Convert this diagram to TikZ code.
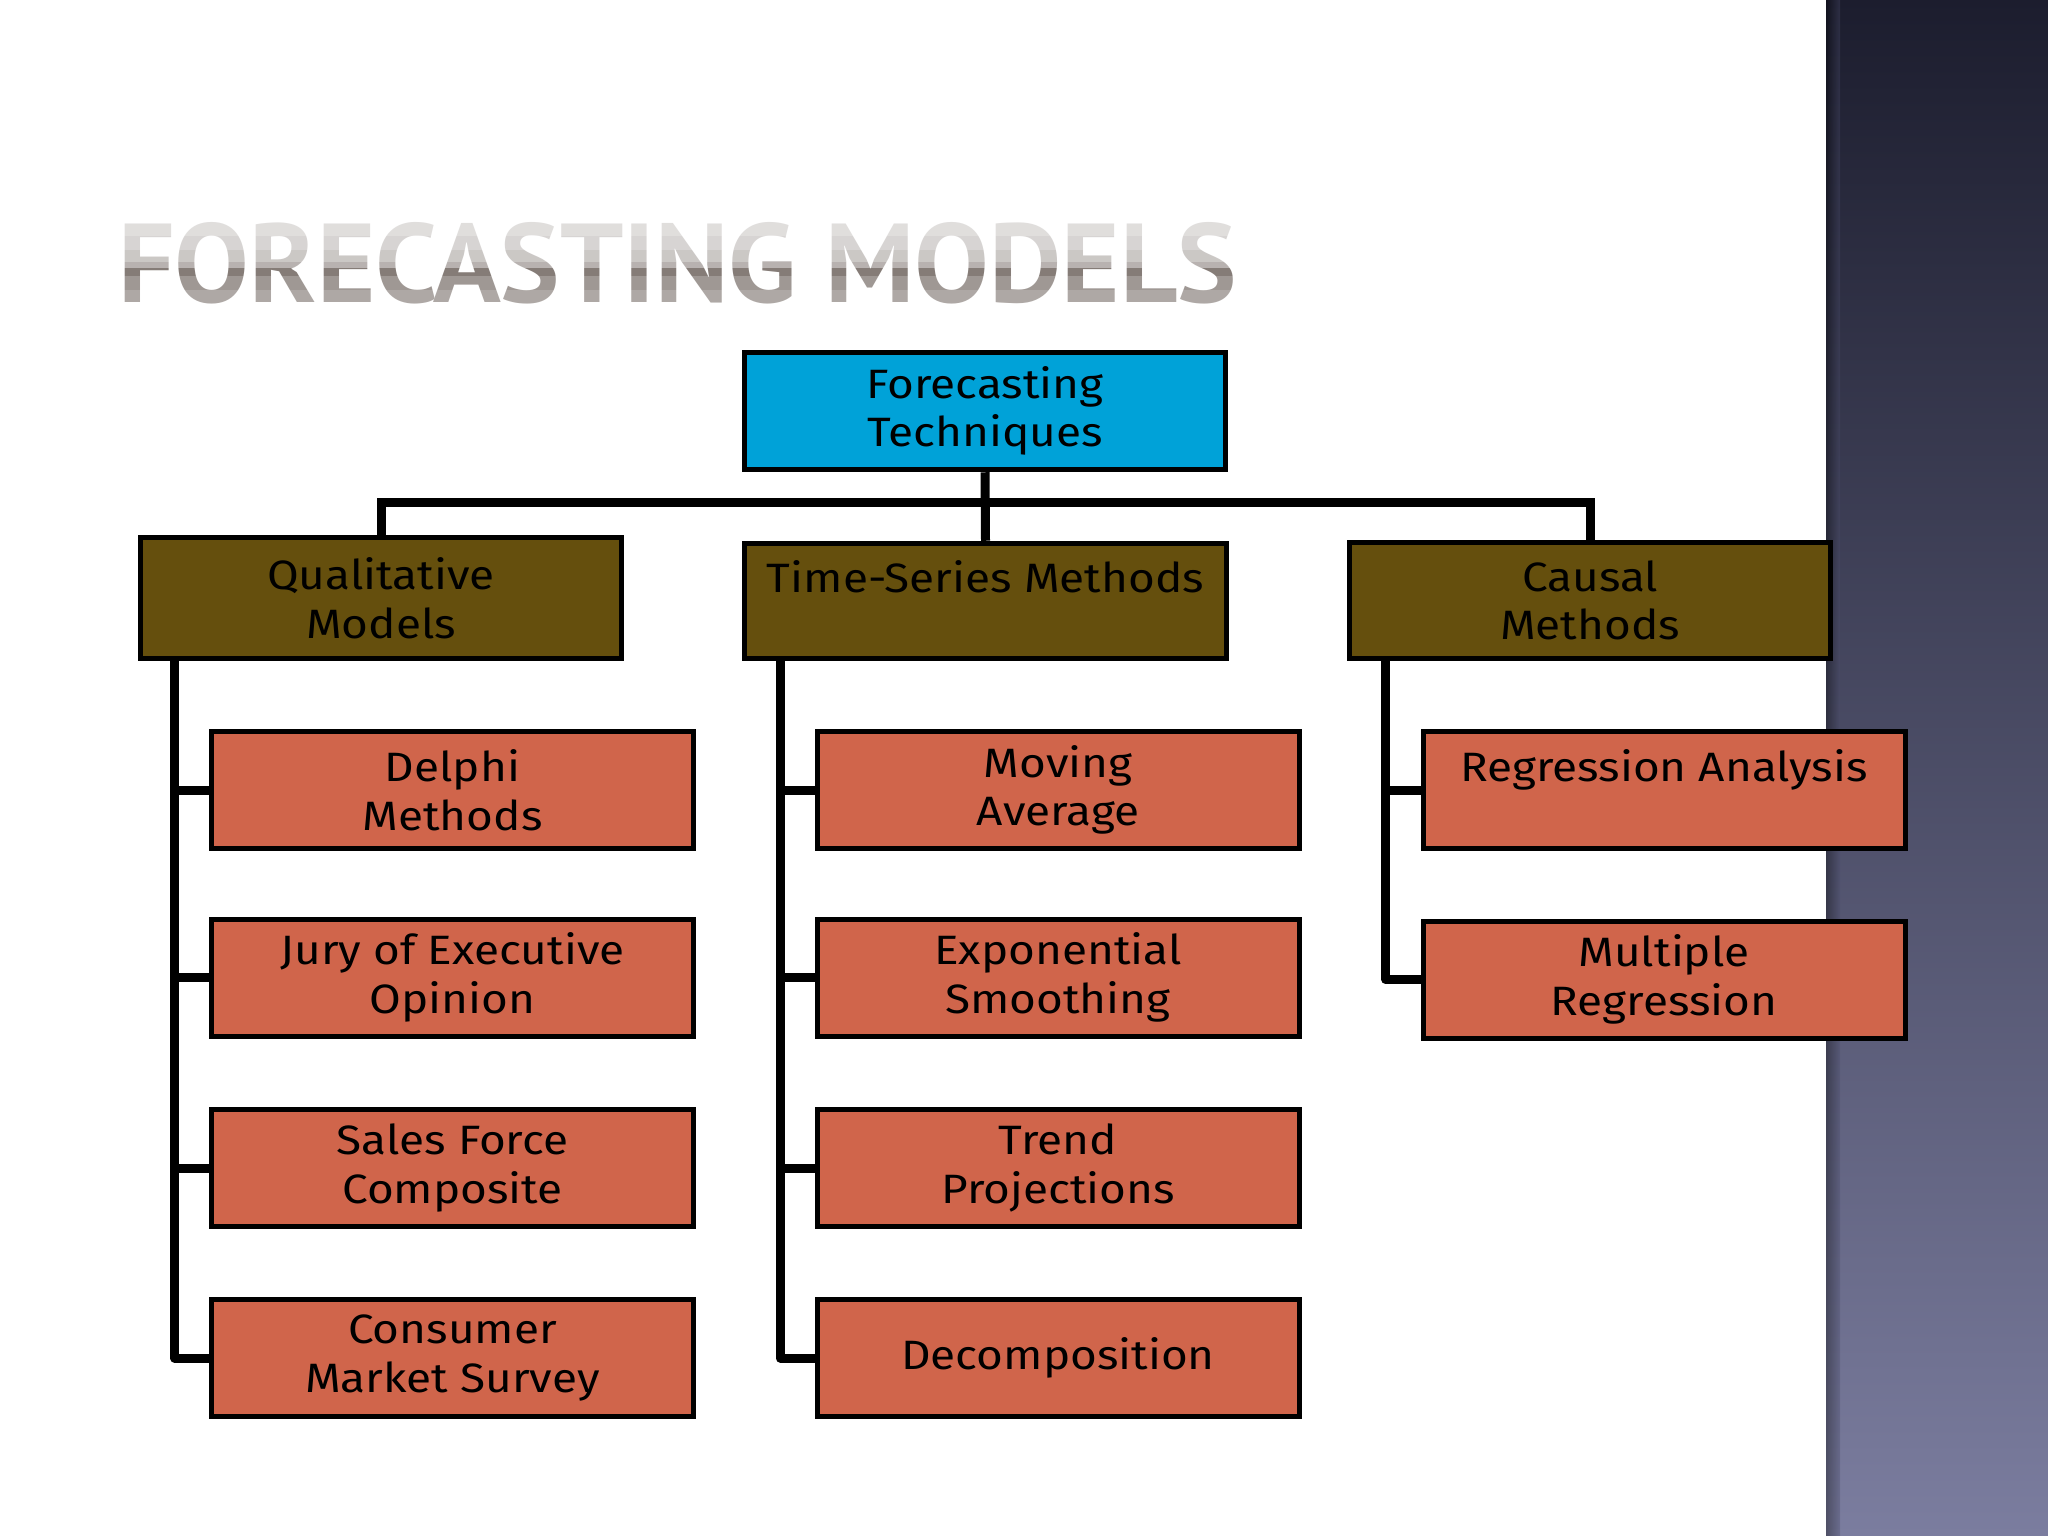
\documentclass[tikz,border=0pt]{standalone}
\usepackage{fontspec}
\setmainfont[FakeStretch=1.12]{Fira Sans}
\newfontfamily\titlefam{PT Sans}
\newcommand\boxfont{\fontsize{41}{48.5}\selectfont}
\definecolor{salmonc}{HTML}{D0654B}
\definecolor{olivec}{HTML}{654F0D}
\definecolor{bluec}{HTML}{00A2D8}
\definecolor{paneltop}{HTML}{1C1D2E}
\definecolor{panelmid}{HTML}{4E5070}
\definecolor{panelbot}{HTML}{7B7D9F}
\definecolor{titlebase}{HTML}{857C77}
\begin{document}
\begin{tikzpicture}[x=1pt,y=-1pt,
  box/.style={draw=black, line width=5pt, inner sep=0pt, align=center, font=\boxfont, text=black},
  leaf/.style={box, fill=salmonc, minimum width=482pt, minimum height=117pt},
  cat/.style={box, fill=olivec, minimum width=481.5pt, minimum height=116.5pt},
  conn/.style={line width=9pt, line join=round},
  bar/.style={line width=9pt, line join=miter}]
\useasboundingbox (0,0) rectangle (2048,1536);
% background
\fill[white] (0,0) rectangle (1826,1536);
\shade[top color=paneltop, middle color=panelmid, bottom color=panelbot] (1826,0) rectangle (2048,1536);
\shade[left color=black, right color=panelmid, opacity=0.35] (1826,0) rectangle (1840,1536);
% title
\node[anchor=south west, inner sep=0pt, text=titlebase] (title) at (118,304)
  {\resizebox{1118pt}{80pt}{\titlefam\bfseries FORECASTING MODELS}};
\fill[white, opacity=0.75] (110,215) rectangle (1250,236);
\fill[white, opacity=0.68] (110,236) rectangle (1250,250);
\fill[white, opacity=0.58] (110,250) rectangle (1250,262);
\fill[white, opacity=0.42] (110,262) rectangle (1250,268);
\fill[white, opacity=0.22] (110,276) rectangle (1250,290);
\fill[white, opacity=0.34] (110,290) rectangle (1250,310);
% top
\node[box, fill=bluec, minimum width=481.5pt, minimum height=117.5pt] (top) at (985,411) {Forecasting\\Techniques};
% categories
\node[cat, minimum height=121.5pt] (qual) at (381,598) {Qualitative\\Models};
\node[cat, minimum height=115.5pt] (time) at (985.5,601) {Time-Series Methods\\\mbox{}};
\node[cat] (causal) at (1590,600.5) {Causal\\Methods};
% leaves left
\node[leaf] (d1) at (452.5,790) {Delphi\\Methods};
\node[leaf] (d2) at (452.5,977.5) {Jury of Executive\\Opinion};
\node[leaf] (d3) at (452.5,1168) {Sales Force\\Composite};
\node[leaf] (d4) at (452.5,1358) {Consumer\\Market Survey};
% leaves middle
\node[leaf] (m1) at (1058,790) {Moving\\Average};
\node[leaf] (m2) at (1058,977.5) {Exponential\\Smoothing};
\node[leaf] (m3) at (1058,1168) {Trend\\Projections};
\node[leaf] (m4) at (1058,1358) {Decomposition};
% leaves right
\node[leaf] (r1) at (1664,790) {Regression Analysis\\\mbox{}};
\node[leaf] (r2) at (1664,979.5) {Multiple\\Regression};
% connectors
\draw[bar] (top.south) -- (time.north);
\draw[bar] (qual.north) -- ++(0,-32) -| (causal.north);
\coordinate (ls) at ([xshift=37pt]qual.south west);
\coordinate (ms) at ([xshift=38pt]time.south west);
\coordinate (rs) at ([xshift=39pt]causal.south west);
\draw[conn] (ls) |- (d4.west);
\draw[conn] (d1.west) -- (d1.west -| ls);
\draw[conn] (d2.west) -- (d2.west -| ls);
\draw[conn] (d3.west) -- (d3.west -| ls);
\draw[conn] (ms) |- (m4.west);
\draw[conn] (m1.west) -- (m1.west -| ms);
\draw[conn] (m2.west) -- (m2.west -| ms);
\draw[conn] (m3.west) -- (m3.west -| ms);
\draw[conn] (rs) |- (r2.west);
\draw[conn] (r1.west) -- (r1.west -| rs);
\end{tikzpicture}
\end{document}
